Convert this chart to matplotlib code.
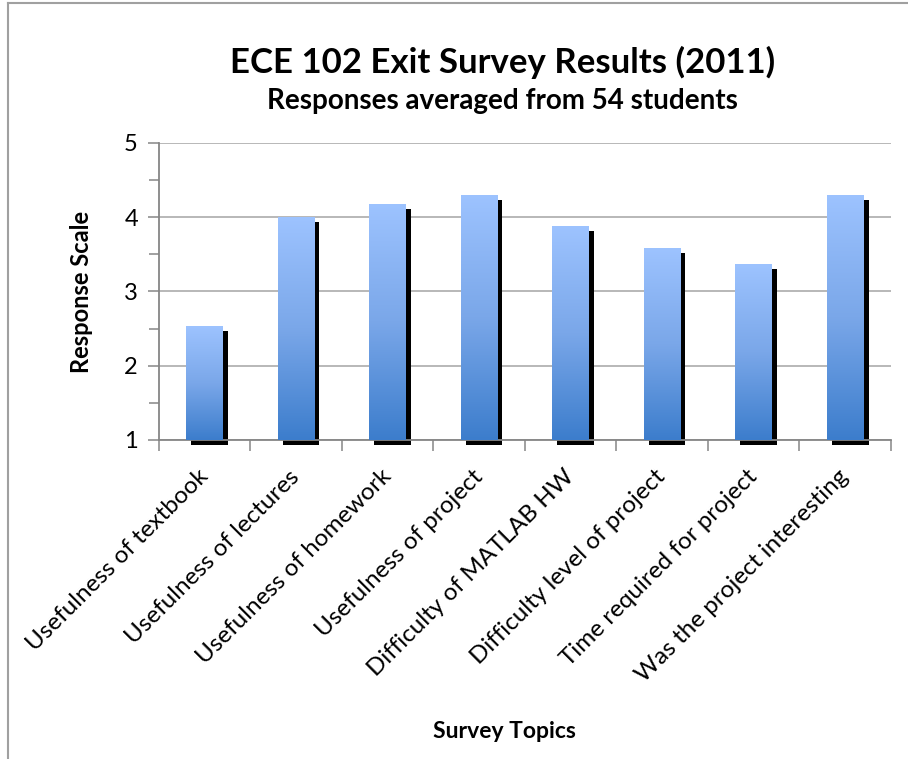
import numpy as np
import matplotlib.pyplot as plt
import matplotlib.transforms as mtransforms
from matplotlib.colors import LinearSegmentedColormap
from matplotlib.lines import Line2D

plt.rcParams['font.family'] = ['Lato', 'DejaVu Sans']

topics = ['Usefulness of textbook', 'Usefulness of lectures', 'Usefulness of homework',
          'Usefulness of project', 'Difficulty of MATLAB HW', 'Difficulty level of project',
          'Time required for project', 'Was the project interesting']
scores = [2.53, 4.00, 4.18, 4.30, 3.88, 3.58, 3.37, 4.30]
y_ticks = [1, 2, 3, 4, 5]

fig = plt.figure(figsize=(9.08, 7.59), dpi=100)
ax = fig.add_axes([0.1748, 0.4203, 0.8065, 0.3913])

x = np.arange(len(topics))

# drop shadow: same bars shifted right/down by a few pixels
shadow = ax.transData + mtransforms.ScaledTranslation(5 / 100, -5 / 100, fig.dpi_scale_trans)
ax.bar(x, np.array(scores) - 1, width=0.4, bottom=1, color='black',
       transform=shadow, zorder=2, clip_on=False)

bars = ax.bar(x, np.array(scores) - 1, width=0.4, bottom=1, color='none', zorder=3)

# vertical blue gradient inside each bar
cmap = LinearSegmentedColormap.from_list('excel_blue', ['#3c7dcc', '#7aa7e9', '#9dc3ff'])
grad = np.linspace(0, 1, 256).reshape(-1, 1)
for b in bars:
    x0, y0 = b.get_x(), b.get_y()
    im = ax.imshow(grad, cmap=cmap, origin='lower', aspect='auto', zorder=3,
                   extent=[x0, x0 + b.get_width(), y0, y0 + b.get_height()])
    im.set_clip_path(b)
ax.set_xlim(-0.5, len(topics) - 0.5)
ax.set_ylim(1, 5)

# gridlines
ax.set_yticks(y_ticks)
ax.set_yticks(np.arange(1.5, 5, 1), minor=True)
ax.yaxis.grid(True, color='#ababab', linewidth=1.2, zorder=1)
ax.set_axisbelow(True)

ax.set_xticks(x)
ax.set_xticklabels(topics, rotation=45, ha='right', va='center', rotation_mode='anchor',
                   fontsize=17.5)
ax.set_xticks(np.arange(-0.5, len(topics)), minor=True)
ax.tick_params(axis='x', which='major', length=0, pad=24)
ax.tick_params(axis='x', which='minor', length=8, width=1.1, color='#868686', direction='out')
ax.tick_params(axis='y', which='major', length=8, width=1.1, color='#868686', labelsize=17, pad=7)
ax.tick_params(axis='y', which='minor', length=7, width=1.1, color='#868686')

for side in ['top', 'right']:
    ax.spines[side].set_visible(False)
for side in ['left', 'bottom']:
    ax.spines[side].set_color('#868686')
    ax.spines[side].set_linewidth(1.3)

ax.set_ylabel('Response Scale', fontsize=17, fontweight='bold', labelpad=22)
fig.text(0.555, 0.028, 'Survey Topics', ha='center', va='baseline', fontsize=16.5,
         fontweight='bold')

fig.text(0.553, 0.904, 'ECE 102 Exit Survey Results (2011)', ha='center', va='baseline',
         fontsize=25, fontweight='bold')
fig.text(0.553, 0.857, 'Responses averaged from 54 students', ha='center', va='baseline',
         fontsize=20, fontweight='bold')

# chart area border (top and left edges only)
fig.add_artist(Line2D([0.009, 1.0], [0.996, 0.996], color='#a0a0a0', linewidth=1.5))
fig.add_artist(Line2D([0.009, 0.009], [0.0, 0.996], color='#a0a0a0', linewidth=1.5))

fig.savefig('out.png', dpi=100)
